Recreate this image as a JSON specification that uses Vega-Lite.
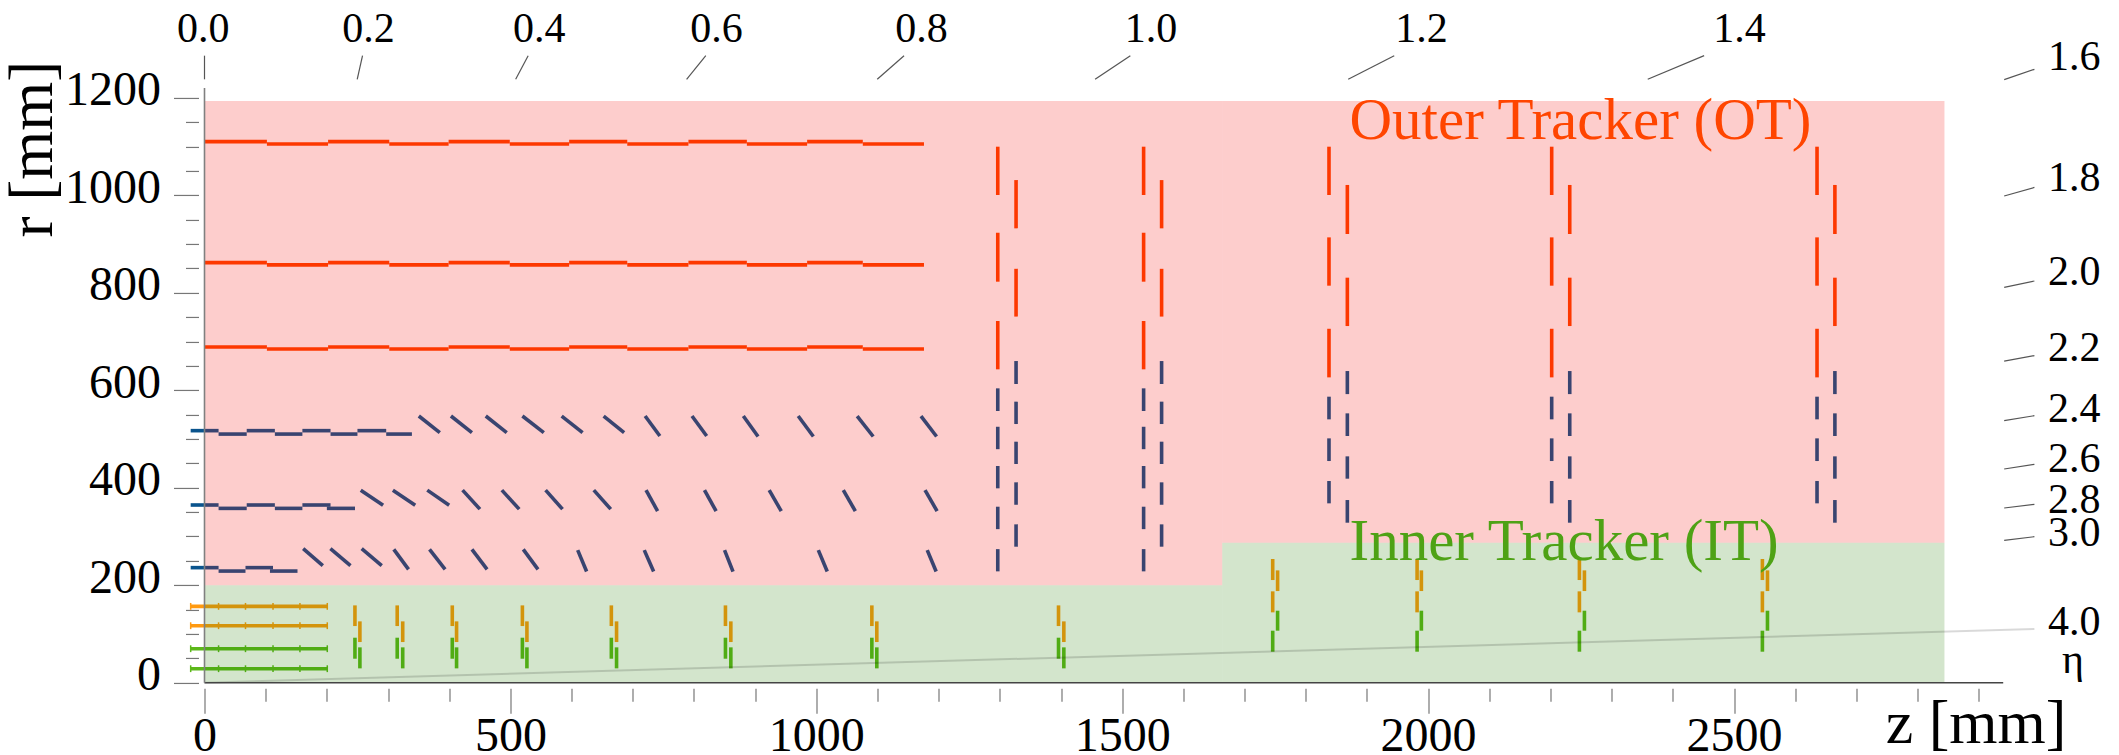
{
"$schema":"https://vega.github.io/schema/vega-lite/v6.json",
"width":1798.7,"height":594.75,
"autosize":{"type":"none"},
"padding":{"left":204.5,"top":87.95,"right":115.8,"bottom":72.3},
"background":"#ffffff",
"config":{"view":{"stroke":null},"font":"Liberation Serif"},
"datasets":{
"sensors":[
{"z":0,"z2":102,"r":1110,"r2":1110,"sensor":"OT outer"},{"z":102,"z2":202,"r":1105,"r2":1105,"sensor":"OT outer"},{"z":202,"z2":302,"r":1110,"r2":1110,"sensor":"OT outer"},{"z":302,"z2":399,"r":1105,"r2":1105,"sensor":"OT outer"},{"z":399,"z2":499,"r":1110,"r2":1110,"sensor":"OT outer"},{"z":499,"z2":596,"r":1105,"r2":1105,"sensor":"OT outer"},{"z":596,"z2":691,"r":1110,"r2":1110,"sensor":"OT outer"},{"z":691,"z2":791,"r":1105,"r2":1105,"sensor":"OT outer"},{"z":791,"z2":886.5,"r":1110,"r2":1110,"sensor":"OT outer"},{"z":886.5,"z2":985,"r":1105,"r2":1105,"sensor":"OT outer"},{"z":985,"z2":1076,"r":1110,"r2":1110,"sensor":"OT outer"},{"z":1076,"z2":1176,"r":1105,"r2":1105,"sensor":"OT outer"},
{"z":0,"z2":102,"r":861.6,"r2":861.6,"sensor":"OT outer"},{"z":102,"z2":202,"r":857,"r2":857,"sensor":"OT outer"},{"z":202,"z2":302,"r":861.6,"r2":861.6,"sensor":"OT outer"},{"z":302,"z2":399,"r":857,"r2":857,"sensor":"OT outer"},{"z":399,"z2":499,"r":861.6,"r2":861.6,"sensor":"OT outer"},{"z":499,"z2":596,"r":857,"r2":857,"sensor":"OT outer"},{"z":596,"z2":691,"r":861.6,"r2":861.6,"sensor":"OT outer"},{"z":691,"z2":791,"r":857,"r2":857,"sensor":"OT outer"},{"z":791,"z2":886.5,"r":861.6,"r2":861.6,"sensor":"OT outer"},{"z":886.5,"z2":985,"r":857,"r2":857,"sensor":"OT outer"},{"z":985,"z2":1076,"r":861.6,"r2":861.6,"sensor":"OT outer"},{"z":1076,"z2":1176,"r":857,"r2":857,"sensor":"OT outer"},
{"z":0,"z2":102,"r":688.6,"r2":688.6,"sensor":"OT outer"},{"z":102,"z2":202,"r":684.4,"r2":684.4,"sensor":"OT outer"},{"z":202,"z2":302,"r":688.6,"r2":688.6,"sensor":"OT outer"},{"z":302,"z2":399,"r":684.4,"r2":684.4,"sensor":"OT outer"},{"z":399,"z2":499,"r":688.6,"r2":688.6,"sensor":"OT outer"},{"z":499,"z2":596,"r":684.4,"r2":684.4,"sensor":"OT outer"},{"z":596,"z2":691,"r":688.6,"r2":688.6,"sensor":"OT outer"},{"z":691,"z2":791,"r":684.4,"r2":684.4,"sensor":"OT outer"},{"z":791,"z2":886.5,"r":688.6,"r2":688.6,"sensor":"OT outer"},{"z":886.5,"z2":985,"r":684.4,"r2":684.4,"sensor":"OT outer"},{"z":985,"z2":1076,"r":688.6,"r2":688.6,"sensor":"OT outer"},{"z":1076,"z2":1176,"r":684.4,"r2":684.4,"sensor":"OT outer"},
{"z":-22.6,"z2":23,"r":517,"r2":517,"sensor":"OT middle"},{"z":23,"z2":69,"r":510,"r2":510,"sensor":"OT middle"},{"z":69,"z2":115,"r":517,"r2":517,"sensor":"OT middle"},{"z":115,"z2":160,"r":510,"r2":510,"sensor":"OT middle"},{"z":160,"z2":206,"r":517,"r2":517,"sensor":"OT middle"},{"z":206,"z2":250,"r":510,"r2":510,"sensor":"OT middle"},{"z":250,"z2":297,"r":517,"r2":517,"sensor":"OT middle"},{"z":297,"z2":339,"r":510,"r2":510,"sensor":"OT middle"},
{"z":-22.6,"z2":23,"r":364.5,"r2":364.5,"sensor":"OT middle"},{"z":23,"z2":69,"r":357.6,"r2":357.6,"sensor":"OT middle"},{"z":69,"z2":115,"r":364.5,"r2":364.5,"sensor":"OT middle"},{"z":115,"z2":160,"r":357.6,"r2":357.6,"sensor":"OT middle"},{"z":160,"z2":206,"r":364.5,"r2":364.5,"sensor":"OT middle"},{"z":200,"z2":246,"r":357.6,"r2":357.6,"sensor":"OT middle"},
{"z":-22.6,"z2":23,"r":236,"r2":236,"sensor":"OT middle"},{"z":23,"z2":67,"r":229,"r2":229,"sensor":"OT middle"},{"z":67,"z2":112,"r":236,"r2":236,"sensor":"OT middle"},{"z":107,"z2":152,"r":229,"r2":229,"sensor":"OT middle"},
{"z":350.3,"z2":384.6,"r":547,"r2":513,"sensor":"OT middle"},{"z":402.8,"z2":437.1,"r":547,"r2":513,"sensor":"OT middle"},{"z":459.7,"z2":494,"r":547,"r2":513,"sensor":"OT middle"},{"z":519.6,"z2":554.6,"r":547,"r2":513,"sensor":"OT middle"},{"z":583.8,"z2":618,"r":547,"r2":513,"sensor":"OT middle"},{"z":652.4,"z2":685.9,"r":547,"r2":513,"sensor":"OT middle"},{"z":720.2,"z2":744.3,"r":547,"r2":506,"sensor":"OT middle"},{"z":796.8,"z2":820.8,"r":547,"r2":506,"sensor":"OT middle"},{"z":880.7,"z2":904.8,"r":547,"r2":505,"sensor":"OT middle"},{"z":970.4,"z2":995.2,"r":547,"r2":505,"sensor":"OT middle"},{"z":1066.8,"z2":1093,"r":547,"r2":505,"sensor":"OT middle"},{"z":1171.1,"z2":1196.6,"r":547,"r2":505,"sensor":"OT middle"},
{"z":255.4,"z2":291.9,"r":395,"r2":364,"sensor":"OT middle"},{"z":307.9,"z2":344.4,"r":395,"r2":364,"sensor":"OT middle"},{"z":364.1,"z2":399.9,"r":395,"r2":364,"sensor":"OT middle"},{"z":421.8,"z2":450.2,"r":395,"r2":356,"sensor":"OT middle"},{"z":486,"z2":514.4,"r":395,"r2":356,"sensor":"OT middle"},{"z":557.5,"z2":585.2,"r":395,"r2":356,"sensor":"OT middle"},{"z":636.3,"z2":664,"r":395,"r2":356,"sensor":"OT middle"},{"z":721.7,"z2":740.6,"r":395,"r2":352,"sensor":"OT middle"},{"z":817.2,"z2":836.2,"r":395,"r2":352,"sensor":"OT middle"},{"z":923,"z2":942.7,"r":395,"r2":352,"sensor":"OT middle"},{"z":1044.1,"z2":1063.8,"r":395,"r2":352,"sensor":"OT middle"},{"z":1177.7,"z2":1197.4,"r":395,"r2":352,"sensor":"OT middle"},
{"z":161.3,"z2":193.4,"r":275,"r2":240,"sensor":"OT middle"},{"z":205.8,"z2":238.6,"r":275,"r2":240,"sensor":"OT middle"},{"z":256.9,"z2":289.7,"r":275,"r2":240,"sensor":"OT middle"},{"z":309.4,"z2":333.5,"r":273.5,"r2":232.5,"sensor":"OT middle"},{"z":367.8,"z2":393.3,"r":273.5,"r2":232.5,"sensor":"OT middle"},{"z":437.1,"z2":461.9,"r":273.5,"r2":232.5,"sensor":"OT middle"},{"z":521,"z2":545.1,"r":273.5,"r2":232.5,"sensor":"OT middle"},{"z":610,"z2":624.6,"r":272,"r2":228,"sensor":"OT middle"},{"z":718.8,"z2":734.1,"r":272,"r2":228,"sensor":"OT middle"},{"z":850,"z2":863.9,"r":272,"r2":228,"sensor":"OT middle"},{"z":1003.3,"z2":1017.9,"r":272,"r2":228,"sensor":"OT middle"},{"z":1181.3,"z2":1195.9,"r":272,"r2":228,"sensor":"OT middle"},

{"z":1296.6,"z2":1296.6,"r":1099.5,"r2":1000.4,"sensor":"OT outer"},{"z":1296.6,"z2":1296.6,"r":923,"r2":822.6,"sensor":"OT outer"},{"z":1296.6,"z2":1296.6,"r":741.9,"r2":642.8,"sensor":"OT outer"},{"z":1326.5,"z2":1326.5,"r":1031,"r2":932,"sensor":"OT outer"},{"z":1326.5,"z2":1326.5,"r":849,"r2":751,"sensor":"OT outer"},
{"z":1296.6,"z2":1296.6,"r":603.8,"r2":557.3,"sensor":"OT middle"},{"z":1296.6,"z2":1296.6,"r":525,"r2":479,"sensor":"OT middle"},{"z":1296.6,"z2":1296.6,"r":444.5,"r2":398.7,"sensor":"OT middle"},{"z":1296.6,"z2":1296.6,"r":361,"r2":315,"sensor":"OT middle"},{"z":1296.6,"z2":1296.6,"r":274,"r2":228.4,"sensor":"OT middle"},
{"z":1326.5,"z2":1326.5,"r":659.8,"r2":612.7,"sensor":"OT middle"},{"z":1326.5,"z2":1326.5,"r":576.5,"r2":530.6,"sensor":"OT middle"},{"z":1326.5,"z2":1326.5,"r":494.4,"r2":448.6,"sensor":"OT middle"},{"z":1326.5,"z2":1326.5,"r":411,"r2":365,"sensor":"OT middle"},{"z":1326.5,"z2":1326.5,"r":324.8,"r2":279,"sensor":"OT middle"},
{"z":1535,"z2":1535,"r":1099.5,"r2":1000.4,"sensor":"OT outer"},{"z":1535,"z2":1535,"r":923,"r2":822.6,"sensor":"OT outer"},{"z":1535,"z2":1535,"r":741.9,"r2":642.8,"sensor":"OT outer"},{"z":1564.4,"z2":1564.4,"r":1031,"r2":932,"sensor":"OT outer"},{"z":1564.4,"z2":1564.4,"r":849,"r2":751,"sensor":"OT outer"},
{"z":1535,"z2":1535,"r":603.8,"r2":557.3,"sensor":"OT middle"},{"z":1535,"z2":1535,"r":525,"r2":479,"sensor":"OT middle"},{"z":1535,"z2":1535,"r":444.5,"r2":398.7,"sensor":"OT middle"},{"z":1535,"z2":1535,"r":361,"r2":315,"sensor":"OT middle"},{"z":1535,"z2":1535,"r":274,"r2":228.4,"sensor":"OT middle"},
{"z":1564.4,"z2":1564.4,"r":659.8,"r2":612.7,"sensor":"OT middle"},{"z":1564.4,"z2":1564.4,"r":576.5,"r2":530.6,"sensor":"OT middle"},{"z":1564.4,"z2":1564.4,"r":494.4,"r2":448.6,"sensor":"OT middle"},{"z":1564.4,"z2":1564.4,"r":411,"r2":365,"sensor":"OT middle"},{"z":1564.4,"z2":1564.4,"r":324.8,"r2":279,"sensor":"OT middle"},

{"z":1838,"z2":1838,"r":1099.5,"r2":1000.4,"sensor":"OT outer"},{"z":1838,"z2":1838,"r":913.5,"r2":814.4,"sensor":"OT outer"},{"z":1838,"z2":1838,"r":726,"r2":626.3,"sensor":"OT outer"},{"z":1868,"z2":1868,"r":1021,"r2":920.4,"sensor":"OT outer"},{"z":1868,"z2":1868,"r":830.8,"r2":731.6,"sensor":"OT outer"},
{"z":1838,"z2":1838,"r":586.7,"r2":540.2,"sensor":"OT middle"},{"z":1838,"z2":1838,"r":501.2,"r2":454.7,"sensor":"OT middle"},{"z":1838,"z2":1838,"r":413.7,"r2":367.9,"sensor":"OT middle"},{"z":1868,"z2":1868,"r":639.3,"r2":592,"sensor":"OT middle"},{"z":1868,"z2":1868,"r":552.5,"r2":506,"sensor":"OT middle"},{"z":1868,"z2":1868,"r":464.3,"r2":418.5,"sensor":"OT middle"},{"z":1868,"z2":1868,"r":374.7,"r2":328.2,"sensor":"OT middle"},
{"z":2202,"z2":2202,"r":1099.5,"r2":1000.4,"sensor":"OT outer"},{"z":2202,"z2":2202,"r":913.5,"r2":814.4,"sensor":"OT outer"},{"z":2202,"z2":2202,"r":726,"r2":626.3,"sensor":"OT outer"},{"z":2231.5,"z2":2231.5,"r":1021,"r2":920.4,"sensor":"OT outer"},{"z":2231.5,"z2":2231.5,"r":830.8,"r2":731.6,"sensor":"OT outer"},
{"z":2202,"z2":2202,"r":586.7,"r2":540.2,"sensor":"OT middle"},{"z":2202,"z2":2202,"r":501.2,"r2":454.7,"sensor":"OT middle"},{"z":2202,"z2":2202,"r":413.7,"r2":367.9,"sensor":"OT middle"},{"z":2231.5,"z2":2231.5,"r":639.3,"r2":592,"sensor":"OT middle"},{"z":2231.5,"z2":2231.5,"r":552.5,"r2":506,"sensor":"OT middle"},{"z":2231.5,"z2":2231.5,"r":464.3,"r2":418.5,"sensor":"OT middle"},{"z":2231.5,"z2":2231.5,"r":374.7,"r2":328.2,"sensor":"OT middle"},
{"z":2635.7,"z2":2635.7,"r":1099.5,"r2":1000.4,"sensor":"OT outer"},{"z":2635.7,"z2":2635.7,"r":913.5,"r2":814.4,"sensor":"OT outer"},{"z":2635.7,"z2":2635.7,"r":726,"r2":626.3,"sensor":"OT outer"},{"z":2664.9,"z2":2664.9,"r":1021,"r2":920.4,"sensor":"OT outer"},{"z":2664.9,"z2":2664.9,"r":830.8,"r2":731.6,"sensor":"OT outer"},
{"z":2635.7,"z2":2635.7,"r":586.7,"r2":540.2,"sensor":"OT middle"},{"z":2635.7,"z2":2635.7,"r":501.2,"r2":454.7,"sensor":"OT middle"},{"z":2635.7,"z2":2635.7,"r":413.7,"r2":367.9,"sensor":"OT middle"},{"z":2664.9,"z2":2664.9,"r":639.3,"r2":592,"sensor":"OT middle"},{"z":2664.9,"z2":2664.9,"r":552.5,"r2":506,"sensor":"OT middle"},{"z":2664.9,"z2":2664.9,"r":464.3,"r2":418.5,"sensor":"OT middle"},{"z":2664.9,"z2":2664.9,"r":374.7,"r2":328.2,"sensor":"OT middle"},

{"z":-22.6,"z2":200.7,"r":156.6,"r2":156.6,"sensor":"IT outer"},{"z":-22.6,"z2":200.7,"r":116.9,"r2":116.9,"sensor":"IT outer"},{"z":-22.6,"z2":200.7,"r":69.7,"r2":69.7,"sensor":"IT inner"},{"z":-22.6,"z2":200.7,"r":28.7,"r2":28.7,"sensor":"IT inner"},

{"z":245.9,"z2":245.9,"r":158.6,"r2":116.2,"sensor":"IT outer"},{"z":254,"z2":254,"r":125.8,"r2":83.4,"sensor":"IT outer"},{"z":245.9,"z2":245.9,"r":92.3,"r2":49.2,"sensor":"IT inner"},{"z":254,"z2":254,"r":72.5,"r2":29.4,"sensor":"IT inner"},
{"z":315,"z2":315,"r":158.6,"r2":116.2,"sensor":"IT outer"},{"z":324,"z2":324,"r":125.8,"r2":83.4,"sensor":"IT outer"},{"z":315,"z2":315,"r":92.3,"r2":49.2,"sensor":"IT inner"},{"z":324,"z2":324,"r":72.5,"r2":29.4,"sensor":"IT inner"},
{"z":405,"z2":405,"r":158.6,"r2":116.2,"sensor":"IT outer"},{"z":412,"z2":412,"r":125.8,"r2":83.4,"sensor":"IT outer"},{"z":405,"z2":405,"r":92.3,"r2":49.2,"sensor":"IT inner"},{"z":412,"z2":412,"r":72.5,"r2":29.4,"sensor":"IT inner"},
{"z":519.6,"z2":519.6,"r":158.6,"r2":116.2,"sensor":"IT outer"},{"z":527,"z2":527,"r":125.8,"r2":83.4,"sensor":"IT outer"},{"z":519.6,"z2":519.6,"r":92.3,"r2":49.2,"sensor":"IT inner"},{"z":527,"z2":527,"r":72.5,"r2":29.4,"sensor":"IT inner"},
{"z":665,"z2":665,"r":158.6,"r2":116.2,"sensor":"IT outer"},{"z":673.5,"z2":673.5,"r":125.8,"r2":83.4,"sensor":"IT outer"},{"z":665,"z2":665,"r":92.3,"r2":49.2,"sensor":"IT inner"},{"z":673.5,"z2":673.5,"r":72.5,"r2":29.4,"sensor":"IT inner"},
{"z":851.5,"z2":851.5,"r":158.6,"r2":116.2,"sensor":"IT outer"},{"z":860.3,"z2":860.3,"r":125.8,"r2":83.4,"sensor":"IT outer"},{"z":851.5,"z2":851.5,"r":92.3,"r2":49.2,"sensor":"IT inner"},{"z":860.3,"z2":860.3,"r":72.5,"r2":29.4,"sensor":"IT inner"},
{"z":1090.8,"z2":1090.8,"r":158.6,"r2":116.2,"sensor":"IT outer"},{"z":1098.9,"z2":1098.9,"r":125.8,"r2":83.4,"sensor":"IT outer"},{"z":1090.8,"z2":1090.8,"r":92.3,"r2":49.2,"sensor":"IT inner"},{"z":1098.9,"z2":1098.9,"r":72.5,"r2":29.4,"sensor":"IT inner"},
{"z":1395.9,"z2":1395.9,"r":158.6,"r2":116.2,"sensor":"IT outer"},{"z":1404.6,"z2":1404.6,"r":125.8,"r2":83.4,"sensor":"IT outer"},{"z":1395.9,"z2":1395.9,"r":92.3,"r2":49.2,"sensor":"IT inner"},{"z":1404.6,"z2":1404.6,"r":72.5,"r2":29.4,"sensor":"IT inner"},

{"z":1746,"z2":1746,"r":253.7,"r2":210.6,"sensor":"IT outer"},{"z":1746,"z2":1746,"r":187.4,"r2":144.3,"sensor":"IT outer"},{"z":1746,"z2":1746,"r":106.7,"r2":63.6,"sensor":"IT inner"},{"z":1754,"z2":1754,"r":230.4,"r2":188,"sensor":"IT outer"},{"z":1754,"z2":1754,"r":147.7,"r2":106.7,"sensor":"IT inner"},
{"z":1982,"z2":1982,"r":253.7,"r2":210.6,"sensor":"IT outer"},{"z":1982,"z2":1982,"r":187.4,"r2":144.3,"sensor":"IT outer"},{"z":1982,"z2":1982,"r":106.7,"r2":63.6,"sensor":"IT inner"},{"z":1989,"z2":1989,"r":230.4,"r2":188,"sensor":"IT outer"},{"z":1989,"z2":1989,"r":147.7,"r2":106.7,"sensor":"IT inner"},
{"z":2247.3,"z2":2247.3,"r":253.7,"r2":210.6,"sensor":"IT outer"},{"z":2247.3,"z2":2247.3,"r":187.4,"r2":144.3,"sensor":"IT outer"},{"z":2247.3,"z2":2247.3,"r":106.7,"r2":63.6,"sensor":"IT inner"},{"z":2255.5,"z2":2255.5,"r":230.4,"r2":188,"sensor":"IT outer"},{"z":2255.5,"z2":2255.5,"r":147.7,"r2":106.7,"sensor":"IT inner"},
{"z":2546.4,"z2":2546.4,"r":253.7,"r2":210.6,"sensor":"IT outer"},{"z":2546.4,"z2":2546.4,"r":187.4,"r2":144.3,"sensor":"IT outer"},{"z":2546.4,"z2":2546.4,"r":106.7,"r2":63.6,"sensor":"IT inner"},{"z":2554.7,"z2":2554.7,"r":230.4,"r2":188,"sensor":"IT outer"},{"z":2554.7,"z2":2554.7,"r":147.7,"r2":106.7,"sensor":"IT inner"}
],
"joins":[
{"z":-22.6,"r":163.6,"r2":149.6,"sensor":"IT outer"},{"z":23,"r":163.6,"r2":149.6,"sensor":"IT outer"},{"z":67,"r":163.6,"r2":149.6,"sensor":"IT outer"},{"z":112,"r":163.6,"r2":149.6,"sensor":"IT outer"},{"z":156,"r":163.6,"r2":149.6,"sensor":"IT outer"},{"z":200.7,"r":163.6,"r2":149.6,"sensor":"IT outer"},
{"z":-22.6,"r":123.9,"r2":109.9,"sensor":"IT outer"},{"z":23,"r":123.9,"r2":109.9,"sensor":"IT outer"},{"z":67,"r":123.9,"r2":109.9,"sensor":"IT outer"},{"z":112,"r":123.9,"r2":109.9,"sensor":"IT outer"},{"z":156,"r":123.9,"r2":109.9,"sensor":"IT outer"},{"z":200.7,"r":123.9,"r2":109.9,"sensor":"IT outer"},
{"z":-22.6,"r":76.7,"r2":62.7,"sensor":"IT inner"},{"z":23,"r":76.7,"r2":62.7,"sensor":"IT inner"},{"z":67,"r":76.7,"r2":62.7,"sensor":"IT inner"},{"z":112,"r":76.7,"r2":62.7,"sensor":"IT inner"},{"z":156,"r":76.7,"r2":62.7,"sensor":"IT inner"},{"z":200.7,"r":76.7,"r2":62.7,"sensor":"IT inner"},
{"z":-22.6,"r":35.7,"r2":21.7,"sensor":"IT inner"},{"z":23,"r":35.7,"r2":21.7,"sensor":"IT inner"},{"z":67,"r":35.7,"r2":21.7,"sensor":"IT inner"},{"z":112,"r":35.7,"r2":21.7,"sensor":"IT inner"},{"z":156,"r":35.7,"r2":21.7,"sensor":"IT inner"},{"z":200.7,"r":35.7,"r2":21.7,"sensor":"IT inner"}
],
"regions":[
{"z":0,"z2":1663.5,"r":200,"r2":1193,"tracker":"OT"},{"z":1663.5,"z2":2844,"r":287,"r2":1193,"tracker":"OT"},
{"z":0,"z2":1663.5,"r":0,"r2":200,"tracker":"IT"},{"z":1663.5,"z2":2844,"r":0,"r2":287,"tracker":"IT"}
],
"etaTicks":[
{"z":0,"z2":0,"r":1286.2,"r2":1237.7},{"z":258.3,"z2":249.6,"r":1286.2,"r2":1237.7},{"z":529,"z2":508.6,"r":1286.2,"r2":1237.7},{"z":819.4,"z2":788,"r":1286.2,"r2":1237.7},{"z":1143.4,"z2":1099.6,"r":1286.2,"r2":1237.7},{"z":1513.3,"z2":1455.7,"r":1286.2,"r2":1237.7},{"z":1944.6,"z2":1869.4,"r":1286.2,"r2":1237.7},{"z":2451.2,"z2":2359,"r":1286.2,"r2":1237.7},
{"z":2991,"z2":2941.6,"r":1258.2,"r2":1237},{"z":2991,"z2":2941.6,"r":1016,"r2":998.3},{"z":2991,"z2":2941.6,"r":824,"r2":811},{"z":2991,"z2":2941.6,"r":671,"r2":659.8},{"z":2991,"z2":2941.6,"r":547.7,"r2":537.5},{"z":2991,"z2":2941.6,"r":447.9,"r2":438.3},{"z":2991,"z2":2941.6,"r":365.8,"r2":358.3},{"z":2991,"z2":2941.6,"r":299.5,"r2":292}
],
"etaLabels":[
{"z":-2,"r":1315,"label":"0.0"},{"z":268,"r":1315,"label":"0.2"},{"z":547,"r":1315,"label":"0.4"},{"z":837,"r":1315,"label":"0.6"},{"z":1172,"r":1315,"label":"0.8"},{"z":1547,"r":1315,"label":"1.0"},{"z":1989,"r":1315,"label":"1.2"},{"z":2509,"r":1315,"label":"1.4"},
{"z":3056,"r":1256.8,"label":"1.6"},{"z":3056,"r":1009,"label":"1.8"},{"z":3056,"r":815.7,"label":"2.0"},{"z":3056,"r":659.8,"label":"2.2"},{"z":3056,"r":534,"label":"2.4"},{"z":3056,"r":431.5,"label":"2.6"},{"z":3056,"r":348.7,"label":"2.8"},{"z":3056,"r":281,"label":"3.0"},{"z":3056,"r":97.8,"label":"4.0"},{"z":3054,"r":19,"label":"η"}
],
"frame":[{"z":0,"z2":2940,"r":0,"r2":0,"edge":"z"},{"z":0,"z2":0,"r":0,"r2":1220,"edge":"r"}]
},
"data":{"name":"sensors"},
"encoding":{
"x":{"field":"z","type":"quantitative","scale":{"domain":[0,2940],"nice":false,"zero":false},
"axis":{"values":[0,100,200,300,400,500,600,700,800,900,1000,1100,1200,1300,1400,1500,1600,1700,1800,1900,2000,2100,2200,2300,2400,2500,2600,2700,2800,2900],
"labelExpr":"datum.value % 500 === 0 ? datum.label : ''",
"format":"d","domain":false,"grid":false,"offset":5.6,
"tickSize":{"condition":{"test":"datum.value % 500 === 0","value":25},"value":13},
"tickColor":"#777777","tickWidth":1.2,
"labelFont":"Liberation Serif","labelFontSize":48,"labelColor":"#000000","labelPadding":-1,"labelOverlap":false,"labelFlush":false,"labelBound":false,
"title":"z [mm]","titleFont":"Liberation Serif","titleFontSize":62,"titleFontWeight":"normal","titleColor":"#000000","titleX":1771,"titleY":54.4,"titleAnchor":"middle","titleAlign":"center","titleBaseline":"alphabetic"}},
"y":{"field":"r","type":"quantitative","scale":{"domain":[0,1220],"nice":false,"zero":false},
"axis":{"values":[0,50,100,150,200,250,300,350,400,450,500,550,600,650,700,750,800,850,900,950,1000,1050,1100,1150,1200],
"labelExpr":"datum.value % 200 === 0 ? datum.value : ''",
"domain":false,"grid":false,"offset":6,
"tickSize":{"condition":{"test":"datum.value % 200 === 0","value":25},"value":13},
"tickColor":"#777777","tickWidth":1.2,
"labelFont":"Liberation Serif","labelFontSize":48,"labelColor":"#000000","labelPadding":13,"labelOffset":-7,"labelOverlap":false,"labelFlush":false,"labelBound":false,
"title":"r [mm]","titleFont":"Liberation Serif","titleFontSize":63,"titleFontWeight":"normal","titleColor":"#000000","titleX":-147.5,"titleY":60.6,"titleAngle":-90,"titleAlign":"center","titleBaseline":"alphabetic"}}
},
"layer":[
{"mark":{"type":"rule","strokeWidth":3.6},
"encoding":{"x2":{"field":"z2"},"y2":{"field":"r2"},
"stroke":{"field":"sensor","type":"nominal","legend":null,"scale":{"domain":["OT outer","OT middle","IT outer","IT inner"],"range":["#FF4500","#0A548D","#FF9A10","#5CB81A"]}}}},
{"data":{"name":"joins"},"mark":{"type":"rule","strokeWidth":1.5},
"encoding":{"y2":{"field":"r2"},
"stroke":{"field":"sensor","type":"nominal","legend":null}}},
{"data":{"name":"regions"},"mark":{"type":"rect","opacity":0.2},
"encoding":{"x2":{"field":"z2"},"y2":{"field":"r2"},
"fill":{"field":"tracker","type":"nominal","legend":null,"scale":{"domain":["OT","IT"],"range":["#F50500","#237D00"]}}}},
{"data":{"name":"etaTicks"},"mark":{"type":"rule","strokeWidth":1.2,"color":"#555555"},
"encoding":{"x2":{"field":"z2"},"y2":{"field":"r2"}}},
{"data":{"values":[{"z":0,"z2":2991,"r":0,"r2":110.1}]},"mark":{"type":"rule","strokeWidth":2,"color":"#000000","opacity":0.15},
"encoding":{"x2":{"field":"z2"},"y2":{"field":"r2"}}},
{"data":{"name":"frame"},"mark":{"type":"rule","strokeWidth":1.6},
"encoding":{"x2":{"field":"z2"},"y2":{"field":"r2"},
"color":{"field":"edge","type":"nominal","legend":null,"scale":{"domain":["z","r"],"range":["#444444","#808080"]}}}},
{"data":{"name":"etaLabels"},"mark":{"type":"text","font":"Liberation Serif","fontSize":42,"align":"center","baseline":"alphabetic","color":"#000000"},
"encoding":{"text":{"field":"label","type":"nominal"}}},
{"data":{"values":[{"z":1871.5,"r":1116,"label":"Outer Tracker (OT)"}]},"mark":{"type":"text","font":"Liberation Serif","fontSize":59,"align":"left","baseline":"alphabetic","color":"#FF4500"},
"encoding":{"text":{"field":"label","type":"nominal"}}},
{"data":{"values":[{"z":1871.5,"r":251.7,"label":"Inner Tracker (IT)"}]},"mark":{"type":"text","font":"Liberation Serif","fontSize":59,"align":"left","baseline":"alphabetic","color":"#4EA215"},
"encoding":{"text":{"field":"label","type":"nominal"}}}
]
}
